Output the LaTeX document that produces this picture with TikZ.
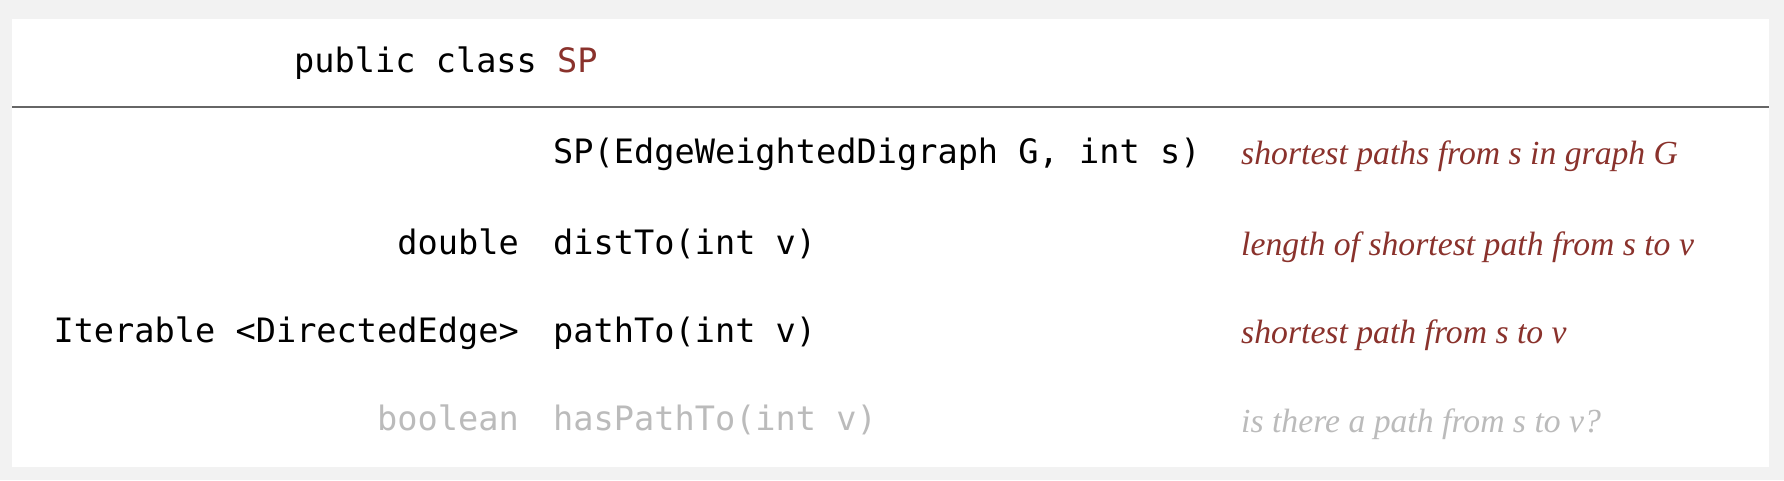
\documentclass[tikz,border=0pt]{standalone}
\usepackage{fontspec}
\setmainfont{Liberation Serif}
\setmonofont{DejaVu Sans Mono}
\definecolor{bgc}{HTML}{F2F2F2}
\definecolor{spred}{RGB}{138,50,44}
\definecolor{ghost}{HTML}{BBBBBB}
\definecolor{rulec}{HTML}{666666}
\tikzset{
  mono/.style={inner sep=0pt, font=\ttfamily\fontsize{33.6}{40}\selectfont},
  typecol/.style={mono, anchor=base east},
  methcol/.style={mono, anchor=base west},
  desccol/.style={inner sep=0pt, anchor=base west, text=spred, font=\rmfamily\itshape\fontsize{33.7}{40}\selectfont},
}
\begin{document}
\begin{tikzpicture}[x=1pt,y=-1pt]
\fill[bgc] (0,0) rectangle (1784,480);
\fill[white] (12,19) rectangle (1769,467);
\useasboundingbox (0,0) rectangle (1784,480);
\coordinate (rl) at (12,107);
\coordinate (rr) at (1769,107);
\draw[rulec, line width=1.6pt] (rl) -- (rr);
\node[methcol] (hdr) at (294,72) {public class \textcolor{spred}{SP}};
% row 1
\node[methcol] (m1) at (553,163) {SP(EdgeWeightedDigraph G, int s)};
\node[desccol] (d1) at (1241,164) {shortest paths from s in graph G};
% row 2
\node[typecol] (t2) at (519,254) {double};
\node[methcol] (m2) at (553,254) {distTo(int v)};
\node[desccol] (d2) at (1241,255) {length of shortest path from s to v};
% row 3
\node[typecol] (t3) at (519,342) {Iterable <DirectedEdge>};
\node[methcol] (m3) at (553,342) {pathTo(int v)};
\node[desccol] (d3) at (1241,343) {shortest path from s to v};
% row 4
\node[typecol, text=ghost] (t4) at (519,430) {boolean};
\node[methcol, text=ghost] (m4) at (553,430) {hasPathTo(int v)};
\node[desccol, text=ghost] (d4) at (1241,432) {is there a path from s to v?};
\end{tikzpicture}
\end{document}
